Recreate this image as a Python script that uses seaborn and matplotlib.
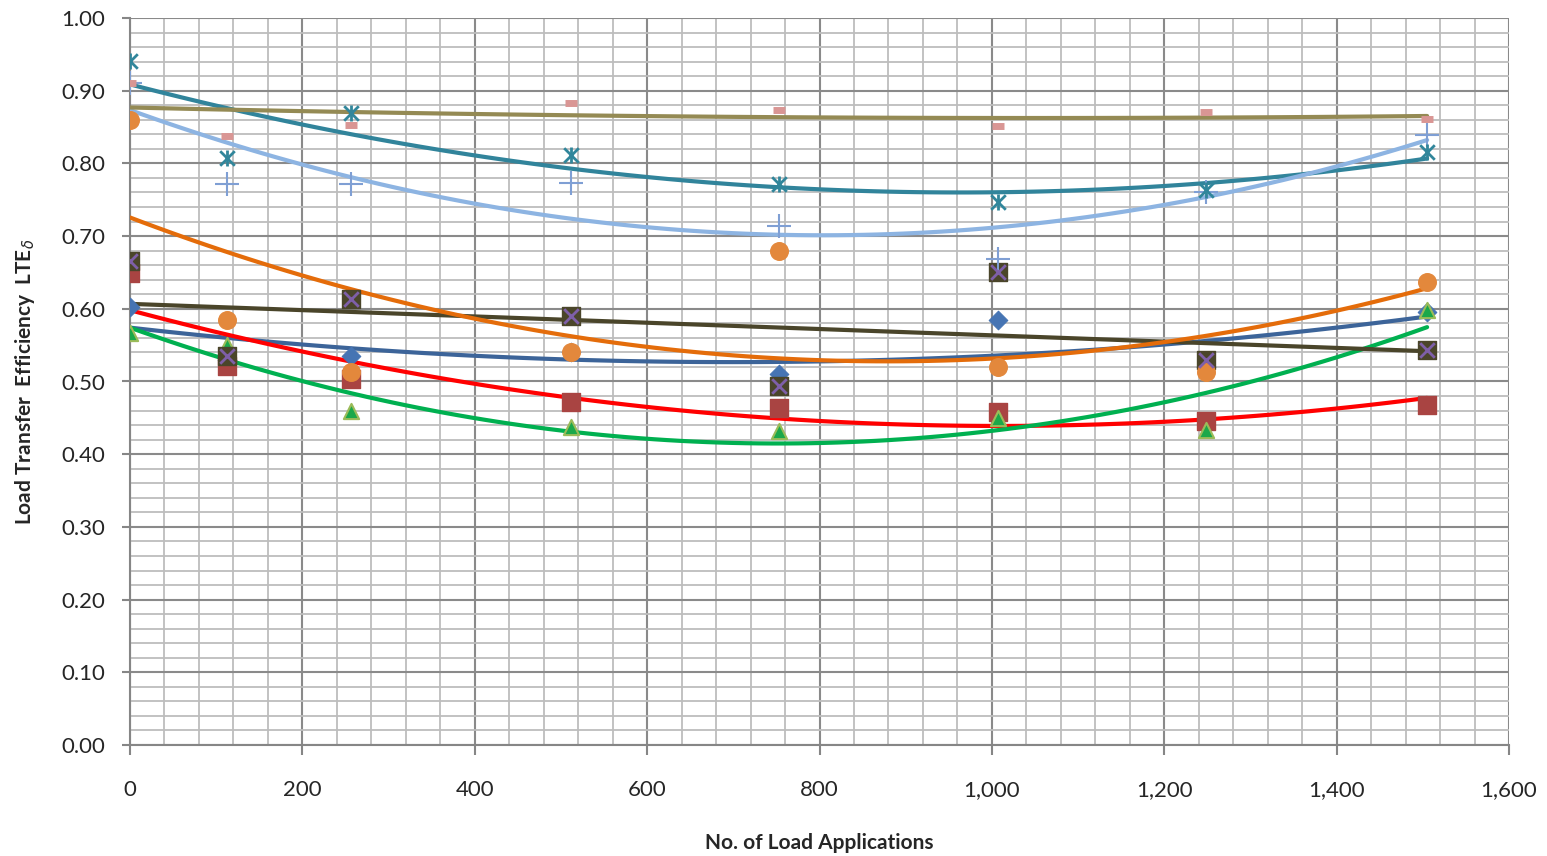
import numpy as np
import pandas as pd
import matplotlib
matplotlib.use("Agg")
import matplotlib.pyplot as plt
from matplotlib.ticker import MultipleLocator, FuncFormatter
import seaborn as sns

# load applications at which LTE was measured
loads = [0, 112, 256, 512, 753, 1007, 1248, 1505]

# LTE values, one list per joint
lte_diamond = [0.603, 0.530, 0.535, 0.540, 0.510, 0.584, 0.520, 0.596]
lte_square = [0.649, 0.521, 0.503, 0.472, 0.464, 0.458, 0.446, 0.468]
lte_triangle = [0.567, 0.550, 0.459, 0.437, 0.432, 0.450, 0.433, 0.598]
lte_cross = [0.666, 0.535, 0.613, 0.590, 0.494, 0.651, 0.529, 0.543]
lte_star = [0.941, 0.807, 0.869, 0.811, 0.771, 0.747, 0.763, 0.816]
lte_circle = [0.860, 0.584, 0.513, 0.541, 0.680, 0.520, 0.513, 0.637]
lte_plus = [0.910, 0.771, 0.771, 0.773, 0.714, 0.669, 0.760, 0.839]
lte_dash = [0.911, 0.838, 0.853, 0.883, 0.874, 0.851, 0.871, 0.861]

sns.set_style("white")
plt.rcParams['font.family'] = ['Lato', 'DejaVu Sans']

fig = plt.figure(figsize=(15.47, 8.56), dpi=100)
ax = fig.add_axes([130 / 1547, 1 - 745 / 856, 1379 / 1547, 727 / 856])

# trendlines (polynomial order as in the original sheet)
trends = [
    (lte_diamond, '#3C6499', 2),
    (lte_square, '#FF0000', 2),
    (lte_triangle, '#00B050', 2),
    (lte_cross, '#4A452A', 1),
    (lte_star, '#31849B', 2),
    (lte_circle, '#E46C0A', 2),
    (lte_plus, '#8DB4E2', 2),
    (lte_dash, '#948A54', 2),
]
for vals, col, order in trends:
    sns.regplot(x=loads, y=vals, order=order, ci=None, scatter=False, truncate=True,
                color=col, line_kws={'lw': 3, 'zorder': 3}, ax=ax)

# markers
sns.scatterplot(x=loads, y=lte_diamond, marker='D', s=90, color='#4674B3', edgecolor='#4674B3', zorder=4, ax=ax)
sns.scatterplot(x=loads, y=lte_square, marker='s', s=150, color='#A94442', edgecolor='#A94442', zorder=4, ax=ax)
sns.scatterplot(x=loads, y=lte_triangle, marker='^', s=120, color='#1BA84A', edgecolor='#9BBB59', linewidth=1.5, zorder=4, ax=ax)
sns.scatterplot(x=loads, y=lte_cross, marker='s', s=150, color='#4A452A', edgecolor='#4A452A', zorder=4, ax=ax)
sns.scatterplot(x=loads, y=lte_cross, marker='x', s=110, color='#7E5FA8', linewidth=2, zorder=5, ax=ax)
sns.scatterplot(x=loads, y=lte_star, marker='x', s=110, color='#31869B', linewidth=2, zorder=5, ax=ax)
sns.scatterplot(x=loads, y=lte_star, marker='|', s=130, color='#31869B', linewidth=2, zorder=5, ax=ax)
sns.scatterplot(x=loads, y=lte_circle, marker='o', s=160, color='#E3883C', edgecolor='#E3883C', zorder=4, ax=ax)
sns.scatterplot(x=loads, y=lte_plus, marker='+', s=280, color='#7F9FD4', linewidth=1.5, zorder=4, ax=ax)
sns.scatterplot(x=loads, y=lte_dash, marker='_', s=70, color='#D99694', linewidth=5, zorder=4, ax=ax)

ax.set_xlim(0, 1600)
ax.set_ylim(0, 1.0)
ax.xaxis.set_major_locator(MultipleLocator(200))
ax.xaxis.set_minor_locator(MultipleLocator(40))
ax.yaxis.set_major_locator(MultipleLocator(0.1))
ax.yaxis.set_minor_locator(MultipleLocator(0.02))
ax.xaxis.set_major_formatter(FuncFormatter(lambda v, p: f"{v:,.0f}"))
ax.yaxis.set_major_formatter(FuncFormatter(lambda v, p: f"{v:.2f}"))

ax.set_axisbelow(True)
ax.grid(which='minor', color='#bdbdbd', lw=1.3)
ax.grid(which='major', color='#8a8a8a', lw=1.5)

for side in ['top', 'right']:
    ax.spines[side].set_visible(False)
for side in ['left', 'bottom']:
    ax.spines[side].set_color('#868686')
    ax.spines[side].set_linewidth(1.5)

ax.tick_params(axis='x', which='major', direction='out', length=7, width=1.5, color='#868686',
               labelsize=16, pad=18, bottom=True)
ax.tick_params(axis='y', which='major', direction='out', length=6, width=1.5, color='#868686',
               labelsize=16, pad=12, left=True)
ax.tick_params(which='minor', length=0)

ax.set_xlabel('No. of Load Applications', fontsize=15, fontweight='bold', labelpad=24)
ax.set_ylabel('Load Transfer  Efficiency  LTE$_{\\delta}$', fontsize=15, fontweight='bold', labelpad=17)

fig.savefig('out.png', dpi=100)
